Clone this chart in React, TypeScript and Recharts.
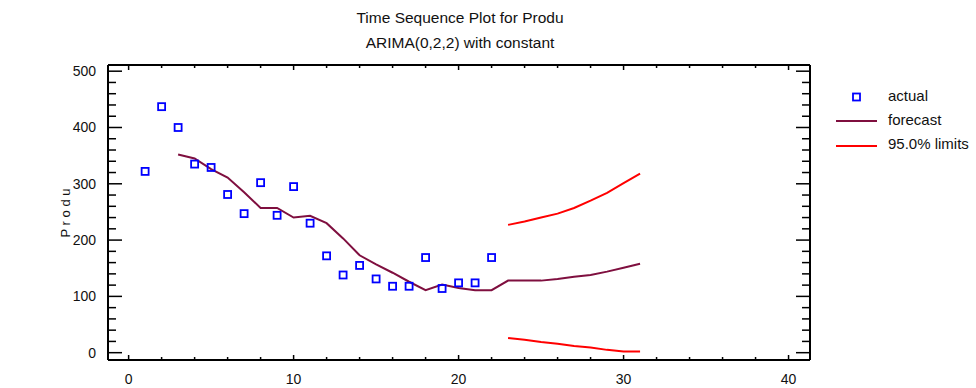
import React from 'react'
import { ComposedChart, Line, Scatter, XAxis, YAxis } from 'recharts'

// observed values, t = 1..22
const actualT = [1, 2, 3, 4, 5, 6, 7, 8, 9, 10, 11, 12, 13, 14, 15, 16, 17, 18, 19, 20, 21, 22]
const actualV = [322, 437, 400, 335, 329, 281, 247, 302, 244, 295, 230, 172, 138, 155, 131, 118, 118, 169, 114, 124, 124, 169]

// one-step fitted values and forecasts, t = 3..31
const forecastT = [3, 4, 5, 6, 7, 8, 9, 10, 11, 12, 13, 14, 15, 16, 17, 18, 19, 20, 21, 22, 23, 24, 25, 26, 27, 28, 29, 30, 31]
const forecastV = [352, 345, 326, 311, 285, 257, 257, 240, 243, 230, 203, 173, 157, 142, 126, 111, 121, 115, 111, 111, 128, 128, 128, 131, 135, 138, 144, 151, 158]

// 95% limits, t = 23..31
const limitT = [23, 24, 25, 26, 27, 28, 29, 30, 31]
const upperV = [227, 233, 240, 247, 257, 270, 284, 301, 318]
const lowerV = [26, 23, 19, 16, 12, 9, 5, 2, 2]

const xTicks = [0, 2, 4, 6, 8, 10, 12, 14, 16, 18, 20, 22, 24, 26, 28, 30, 32, 34, 36, 38, 40]
const yTicks = [0, 20, 40, 60, 80, 100, 120, 140, 160, 180, 200, 220, 240, 260, 280, 300, 320, 340, 360, 380, 400, 420, 440, 460, 480, 500]

const actual = actualT.map((x, i) => ({ x, y: actualV[i] }))
const forecast = forecastT.map((x, i) => ({ x, y: forecastV[i] }))
const upper = limitT.map((x, i) => ({ x, y: upperV[i] }))
const lower = limitT.map((x, i) => ({ x, y: lowerV[i] }))

const FONT = '"Liberation Sans", Arial, sans-serif'
const MAROON = '#7f0f3f'
const RED = '#ff0000'
const BLUE = '#0000ff'
const axisLine = { stroke: '#000', strokeWidth: 2 }

const BottomTick = (p: any) => {
  const v = p.payload.value
  const major = v % 10 === 0
  return (
    <g>
      <line x1={p.x} y1={p.y} x2={p.x} y2={p.y - (major ? 5 : 3)} stroke="#000" strokeWidth={1.5} />
      {major && (
        <text x={p.x} y={p.y + 23.5} textAnchor="middle" fontSize={14} fontFamily={FONT} fill="#111">
          {v}
        </text>
      )}
    </g>
  )
}

const TopTick = (p: any) => {
  const major = p.payload.value % 10 === 0
  return <line x1={p.x} y1={p.y} x2={p.x} y2={p.y + (major ? 5 : 3)} stroke="#000" strokeWidth={1.5} />
}

const LeftTick = (p: any) => {
  const v = p.payload.value
  const major = v % 100 === 0
  return (
    <g>
      <line x1={p.x} y1={p.y} x2={p.x + (major ? 14 : 8)} y2={p.y} stroke="#000" strokeWidth={1.5} />
      {major && (
        <text x={p.x - 12} y={p.y + 5} textAnchor="end" fontSize={14} fontFamily={FONT} fill="#111">
          {v}
        </text>
      )}
    </g>
  )
}

const RightTick = (p: any) => {
  const major = p.payload.value % 100 === 0
  return <line x1={p.x} y1={p.y} x2={p.x - (major ? 14 : 8)} y2={p.y} stroke="#000" strokeWidth={1.5} />
}

const SquareDot = (p: any) => (
  <rect x={p.cx - 3.5} y={p.cy - 3.5} width={7} height={7} fill="none" stroke={BLUE} strokeWidth={1.8} />
)

export default function App() {
  return (
    <div style={{ position: 'absolute', left: 0, top: 0, width: 976, height: 388, background: '#fff' }}>
      <ComposedChart width={976} height={388} margin={{ top: 64, right: 165, bottom: 0, left: 0 }}>
        <XAxis
          xAxisId="b"
          type="number"
          dataKey="x"
          orientation="bottom"
          domain={[-1.25, 41.3]}
          allowDataOverflow
          ticks={xTicks}
          interval={0}
          height={28}
          tickSize={0}
          tickMargin={0}
          tickLine={false}
          axisLine={axisLine}
          tick={BottomTick}
        />
        <XAxis
          xAxisId="t"
          type="number"
          dataKey="x"
          orientation="top"
          domain={[-1.25, 41.3]}
          allowDataOverflow
          ticks={xTicks}
          interval={0}
          height={1}
          tickSize={0}
          tickMargin={0}
          tickLine={false}
          axisLine={axisLine}
          tick={TopTick}
        />
        <YAxis
          yAxisId="l"
          type="number"
          dataKey="y"
          orientation="left"
          domain={[-13, 511]}
          allowDataOverflow
          ticks={yTicks}
          interval={0}
          width={108}
          tickSize={0}
          tickMargin={0}
          tickLine={false}
          axisLine={axisLine}
          tick={LeftTick}
        />
        <YAxis
          yAxisId="r"
          type="number"
          dataKey="y"
          orientation="right"
          domain={[-13, 511]}
          allowDataOverflow
          ticks={yTicks}
          interval={0}
          width={1}
          tickSize={0}
          tickMargin={0}
          tickLine={false}
          axisLine={axisLine}
          tick={RightTick}
        />
        <Line xAxisId="b" yAxisId="l" data={forecast} dataKey="y" stroke={MAROON} strokeWidth={2} dot={false} isAnimationActive={false} />
        <Line xAxisId="b" yAxisId="l" data={upper} dataKey="y" stroke={RED} strokeWidth={2} dot={false} isAnimationActive={false} />
        <Line xAxisId="b" yAxisId="l" data={lower} dataKey="y" stroke={RED} strokeWidth={2} dot={false} isAnimationActive={false} />
        <Scatter xAxisId="b" yAxisId="l" data={actual} dataKey="y" shape={SquareDot} isAnimationActive={false} />
      </ComposedChart>
      <svg
        width={976}
        height={388}
        style={{ position: 'absolute', left: 0, top: 0, pointerEvents: 'none' }}
        fontFamily={FONT}
        fill="#111"
      >
        <text x={460} y={23} textAnchor="middle" fontSize={15.5}>Time Sequence Plot for Produ</text>
        <text x={460} y={48} textAnchor="middle" fontSize={15.5}>ARIMA(0,2,2) with constant</text>
        <text x={0} y={0} transform="translate(70 213) rotate(-90)" textAnchor="middle" fontSize={13}>
          P r o d u
        </text>
        <rect x={853} y={93.5} width={7} height={7} fill="none" stroke={BLUE} strokeWidth={1.8} />
        <text x={888} y={100.5} fontSize={15}>actual</text>
        <line x1={836} y1={121} x2={877} y2={121} stroke={MAROON} strokeWidth={2} />
        <text x={888} y={124.5} fontSize={15}>forecast</text>
        <line x1={836} y1={146} x2={877} y2={146} stroke={RED} strokeWidth={2} />
        <text x={888} y={148.8} fontSize={15}>95.0% limits</text>
      </svg>
    </div>
  )
}
